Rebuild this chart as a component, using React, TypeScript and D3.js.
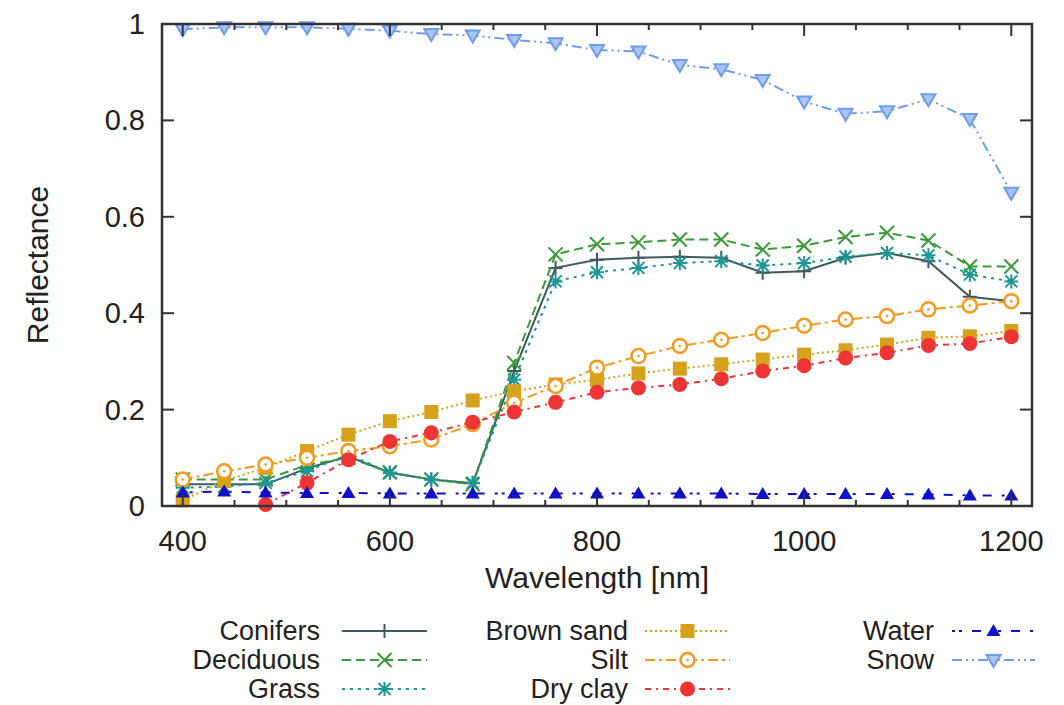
import React from 'react';
import * as d3 from 'd3';

// wavelengths in nm
const wavelengths = [400, 440, 480, 520, 560, 600, 640, 680, 720, 760, 800, 840, 880, 920, 960, 1000, 1040, 1080, 1120, 1160, 1200];

const conifers = [0.045, 0.045, 0.045, 0.078, 0.103, 0.069, 0.055, 0.047, 0.28, 0.494, 0.511, 0.515, 0.517, 0.515, 0.484, 0.487, 0.515, 0.525, 0.508, 0.434, 0.425];
const deciduous = [0.055, 0.055, 0.055, 0.085, 0.1, 0.07, 0.055, 0.045, 0.297, 0.522, 0.543, 0.547, 0.553, 0.553, 0.532, 0.54, 0.558, 0.567, 0.551, 0.497, 0.497];
const grass = [0.038, 0.04, 0.048, 0.072, 0.107, 0.069, 0.055, 0.048, 0.262, 0.466, 0.485, 0.494, 0.504, 0.508, 0.499, 0.504, 0.517, 0.525, 0.52, 0.48, 0.466];
const brownSand = [0.012, 0.052, 0.079, 0.114, 0.148, 0.176, 0.195, 0.219, 0.238, 0.252, 0.262, 0.275, 0.285, 0.294, 0.304, 0.314, 0.323, 0.335, 0.349, 0.352, 0.363];
const silt = [0.055, 0.072, 0.086, 0.1, 0.114, 0.124, 0.138, 0.17, 0.214, 0.249, 0.287, 0.311, 0.332, 0.345, 0.359, 0.374, 0.387, 0.394, 0.408, 0.416, 0.425];
const dryClay = [null, null, 0.003, 0.048, 0.096, 0.134, 0.152, 0.174, 0.195, 0.215, 0.236, 0.245, 0.252, 0.264, 0.28, 0.291, 0.307, 0.318, 0.333, 0.337, 0.351];
const water = [0.028, 0.03, 0.028, 0.027, 0.027, 0.026, 0.026, 0.026, 0.026, 0.026, 0.026, 0.026, 0.026, 0.026, 0.025, 0.025, 0.025, 0.025, 0.024, 0.022, 0.022];
const snow = [0.989, 0.993, 0.993, 0.993, 0.99, 0.986, 0.979, 0.976, 0.967, 0.96, 0.946, 0.943, 0.915, 0.906, 0.884, 0.839, 0.814, 0.819, 0.844, 0.803, 0.65];

const xTicks = [400, 600, 800, 1000, 1200];
const xMinorTicks = [400, 450, 500, 550, 600, 650, 700, 750, 800, 850, 900, 950, 1000, 1050, 1100, 1150, 1200];
const yTicks = [0, 0.2, 0.4, 0.6, 0.8, 1];
const yTickLabels = ['0', '0.2', '0.4', '0.6', '0.8', '1'];

type Series = {
    name: string;
    values: (number | null)[];
    color: string;
    dash: string | null;
    marker: string;
    col: number;
    row: number;
};

const series: Series[] = [
    {name: 'Conifers', values: conifers, color: '#3f5b60', dash: null, marker: 'plus', col: 0, row: 0},
    {name: 'Deciduous', values: deciduous, color: '#3a9a3a', dash: '9,5', marker: 'cross', col: 0, row: 1},
    {name: 'Grass', values: grass, color: '#1f9696', dash: '3,5', marker: 'star', col: 0, row: 2},
    {name: 'Brown sand', values: brownSand, color: '#d6a21c', dash: '2,3', marker: 'square', col: 1, row: 0},
    {name: 'Silt', values: silt, color: '#f59a1e', dash: '10,4,3,4', marker: 'circle', col: 1, row: 1},
    {name: 'Dry clay', values: dryClay, color: '#ee3535', dash: '6,5,2,5', marker: 'dot', col: 1, row: 2},
    {name: 'Water', values: water, color: '#1010c8', dash: '3,4,3,10,9,10', marker: 'triangle', col: 2, row: 0},
    {name: 'Snow', values: snow, color: '#6f9ded', dash: '10,4,2,4,2,4', marker: 'tridown', col: 2, row: 1},
];

const FONT = '"Liberation Sans", Arial, Helvetica, sans-serif';

function Marker({kind, x, y, color}: {kind: string; x: number; y: number; color: string})
{
    switch (kind)
    {
        case 'plus':
            return <path d={`M${x - 7},${y}H${x + 7}M${x},${y - 7}V${y + 7}`} stroke={color} strokeWidth={2} fill="none"/>;
        case 'cross':
            return <path d={`M${x - 7},${y - 7}L${x + 7},${y + 7}M${x - 7},${y + 7}L${x + 7},${y - 7}`} stroke={color} strokeWidth={2} fill="none"/>;
        case 'star':
            return <path d={`M${x - 7},${y}H${x + 7}M${x},${y - 7}V${y + 7}M${x - 6},${y - 6}L${x + 6},${y + 6}M${x - 6},${y + 6}L${x + 6},${y - 6}`}
                         stroke={color} strokeWidth={2} fill="none"/>;
        case 'square':
            return <rect x={x - 7} y={y - 7} width={14} height={14} fill={color}/>;
        case 'circle':
            return <g>
                <circle cx={x} cy={y} r={7} fill="white" stroke={color} strokeWidth={2.5}/>
                <circle cx={x} cy={y} r={1.3} fill={color}/>
            </g>;
        case 'dot':
            return <circle cx={x} cy={y} r={7.5} fill={color}/>;
        case 'triangle':
            return <path d={`M${x},${y - 7}L${x + 7},${y + 5}L${x - 7},${y + 5}Z`} fill={color}/>;
        case 'tridown':
            return <path d={`M${x - 7},${y - 5}L${x + 7},${y - 5}L${x},${y + 7}Z`} fill="#a9c4f5" stroke={color} strokeWidth={2}/>;
        default:
            return null;
    }
}

export default function App()
{
    const left = 162, right = 1032, top = 24, bottom = 506;

    const xScale = d3.scaleLinear().domain([380, 1220]).range([left, right]);
    const yScale = d3.scaleLinear().domain([0, 1]).range([bottom, top]);

    const lineGen = d3.line<[number, number | null]>()
        .defined(d => d[1] !== null)
        .x(d => xScale(d[0]))
        .y(d => yScale(d[1] as number));

    const legendCols = [
        {textX: 320, x1: 342, x2: 427},
        {textX: 628, x1: 645, x2: 730},
        {textX: 934, x1: 952, x2: 1035},
    ];
    const legendRows = [631, 660, 689];

    return (
        <svg width={1064} height={705} style={{display: 'block', position: 'absolute', left: 0, top: 0}}
             fontFamily={FONT}>
            <rect x={0} y={0} width={1064} height={705} fill="white"/>

            {/* series lines */}
            {series.map((s, i) =>
            {
                const pts = wavelengths.map((w, j) => [w, s.values[j]] as [number, number | null]);
                return (
                    <g key={i}>
                        <path d={lineGen(pts) || ''} fill="none" stroke={s.color} strokeWidth={2}
                              strokeDasharray={s.dash || undefined}/>
                        {pts.filter(p => p[1] !== null).map((p, j) =>
                            <Marker key={j} kind={s.marker} x={xScale(p[0])} y={yScale(p[1] as number)} color={s.color}/>
                        )}
                    </g>
                );
            })}

            {/* frame and ticks */}
            <g stroke="#333" strokeWidth={2}>
                {xMinorTicks.map((t, i) =>
                {
                    const major = xTicks.indexOf(t) >= 0;
                    const len = major ? 12 : 6;
                    return (
                        <g key={i}>
                            <line x1={xScale(t)} x2={xScale(t)} y1={bottom} y2={bottom - len}/>
                            <line x1={xScale(t)} x2={xScale(t)} y1={top} y2={top + len}/>
                        </g>
                    );
                })}
                {yTicks.map((t, i) =>
                    <g key={i}>
                        <line x1={left} x2={left + 12} y1={yScale(t)} y2={yScale(t)}/>
                        <line x1={right} x2={right - 12} y1={yScale(t)} y2={yScale(t)}/>
                    </g>
                )}
                <rect x={left} y={top} width={right - left} height={bottom - top} fill="none" strokeWidth={2.5}/>
            </g>

            {/* tick labels */}
            <g fill="#222" fontSize={29}>
                {xTicks.map((t, i) =>
                    <text key={i} x={xScale(t)} y={551} textAnchor="middle">{t}</text>
                )}
                {yTicks.map((t, i) =>
                    <text key={i} x={145} y={yScale(t) + 10} textAnchor="end">{yTickLabels[i]}</text>
                )}
            </g>

            {/* axis titles */}
            <text x={597} y={588} textAnchor="middle" fontSize={30} fill="#222">Wavelength [nm]</text>
            <text transform="translate(48,265) rotate(-90)" textAnchor="middle" fontSize={30} fill="#222">Reflectance</text>

            {/* legend */}
            {series.map((s, i) =>
            {
                const c = legendCols[s.col];
                const y = legendRows[s.row];
                const mid = (c.x1 + c.x2) / 2;
                return (
                    <g key={i}>
                        <text x={c.textX} y={y + 9} textAnchor="end" fontSize={27} fill="#222">{s.name}</text>
                        <line x1={c.x1} x2={c.x2} y1={y} y2={y} stroke={s.color} strokeWidth={2}
                              strokeDasharray={s.dash || undefined}/>
                        <Marker kind={s.marker} x={mid} y={y} color={s.color}/>
                    </g>
                );
            })}
        </svg>
    );
}
